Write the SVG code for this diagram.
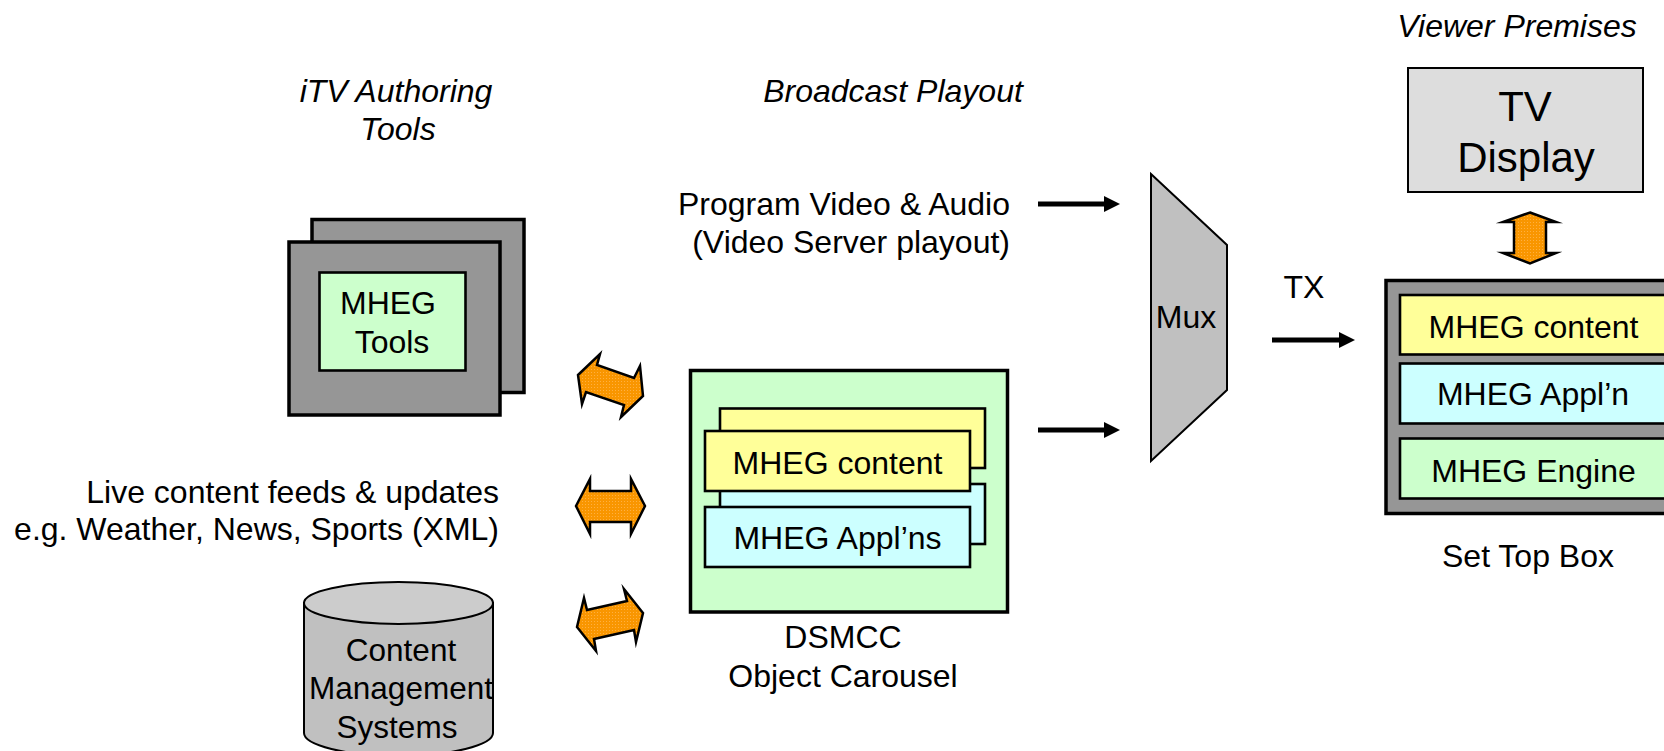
<svg xmlns="http://www.w3.org/2000/svg" width="1664" height="751" viewBox="0 0 1664 751">
<style>
text{font-family:"Liberation Sans",Arial,sans-serif;font-size:32px;fill:#000}
.i{font-style:italic}.m{text-anchor:middle}.e{text-anchor:end}
.b{stroke:#000;stroke-width:3.5}.t{stroke:#000;stroke-width:2.6}
.o{fill:url(#dots);stroke:#000;stroke-width:2.5;stroke-linejoin:miter;stroke-miterlimit:10}
.g{fill:#969696}.gn{fill:#cfc}.y{fill:#ff9}.c{fill:#cff}
.l{stroke:#000;stroke-width:5;fill:none;marker-end:url(#h)}
</style>
<defs>
<marker id="h" markerUnits="userSpaceOnUse" markerWidth="16" markerHeight="16" refX="1" refY="8" orient="auto"><path d="M0 0L16 8L0 16Z" fill="#000"/></marker>
<pattern id="dots" patternUnits="userSpaceOnUse" width="3" height="3"><rect width="3" height="3" fill="#f99600"/><rect width="1" height="1" fill="#ffb040"/></pattern>
</defs>
<g id="labels">
<text class="i m" x="396" y="102">iTV Authoring</text>
<text class="i m" x="398" y="140">Tools</text>
<text class="i m" x="893" y="102">Broadcast Playout</text>
<text class="i m" x="1517" y="37">Viewer Premises</text>
<text class="e" x="1010" y="215">Program Video &amp; Audio</text>
<text class="e" x="1010" y="253">(Video Server playout)</text>
<text class="e" x="499" y="503">Live content feeds &amp; updates</text>
<text class="e" x="499" y="540">e.g. Weather, News, Sports (XML)</text>
<text class="m" x="843" y="648">DSMCC</text>
<text class="m" x="843" y="687">Object Carousel</text>
<text class="m" x="1304" y="298">TX</text>
<text class="m" x="1528" y="567">Set Top Box</text>
</g>
<g id="tools">
<rect class="g b" x="312" y="219.500" width="212" height="173"/>
<rect class="g b" x="289" y="242" width="211" height="173"/>
<rect class="gn t" x="319.500" y="272.500" width="146" height="98"/>
<text class="m" x="388" y="314">MHEG</text>
<text class="m" x="392" y="353">Tools</text>
</g>
<g id="carousel">
<rect class="gn b" x="690.500" y="370.500" width="317" height="241.500"/>
<rect class="y t" x="720" y="408.500" width="265" height="59.500"/>
<rect class="c t" x="720" y="484" width="265" height="60"/>
<rect class="y t" x="705" y="431" width="265" height="60"/>
<rect class="c t" x="705" y="507" width="265" height="60"/>
<text class="m" x="837.500" y="474">MHEG content</text>
<text class="m" x="837.500" y="549">MHEG Appl’ns</text>
</g>
<g id="mux">
<path d="M1151 174L1227 245V390L1151 461Z" fill="#c0c0c0" stroke="#000" stroke-width="2"/>
<text class="m" x="1186" y="328">Mux</text>
</g>
<g id="tv">
<rect x="1408" y="68" width="235" height="124" fill="#ddd" stroke="#000" stroke-width="2"/>
<text class="m" x="1525" y="121" style="font-size:42px">TV</text>
<text class="m" x="1526" y="172" style="font-size:42px">Display</text>
</g>
<g id="stb">
<rect class="g b" x="1386" y="280.500" width="290" height="233"/>
<rect class="y t" x="1400" y="295" width="270" height="59.500"/>
<rect class="c t" x="1400" y="363.500" width="270" height="60"/>
<rect class="gn t" x="1400" y="438.500" width="270" height="60"/>
<text class="m" x="1533.500" y="338">MHEG content</text>
<text class="m" x="1533" y="405">MHEG Appl’n</text>
<text class="m" x="1533.500" y="481.500">MHEG Engine</text>
</g>
<g id="cms">
<path d="M304 603V733C304 745 346 756 398 756C451 756 493 745 493 733V603Z" fill="#c0c0c0" stroke="#000" stroke-width="2"/>
<ellipse cx="398.500" cy="603" rx="94.500" ry="21" fill="#ccc" stroke="#000" stroke-width="2"/>
<text class="m" x="401" y="661" style="font-size:31.500px">Content</text>
<text class="m" x="401" y="699" style="font-size:31.500px">Management</text>
<text class="m" x="397" y="738" style="font-size:31.500px">Systems</text>
</g>
<g id="connectors">
<path class="l" d="M1038 204H1105"/>
<path class="l" d="M1038 430H1105"/>
<path class="l" d="M1272 340H1340"/>
<path class="o" d="M578 375L600 354L597 365L634 378L640 366L643 396L621 417L624 405L586 392L582 404Z"/>
<path class="o" d="M576 506L590 479V491H631V479L645 506L631 534V522H590V534Z"/>
<path class="o" d="M577 627L584 598L587 610L627 601L624 589L643 613L636 642L634 630L594 639L596 651Z"/>
<path class="o" d="M1530 212.500L1556 222H1546V253H1556L1530 263.500L1503 253H1514V222H1503Z"/>
</g>
</svg>
